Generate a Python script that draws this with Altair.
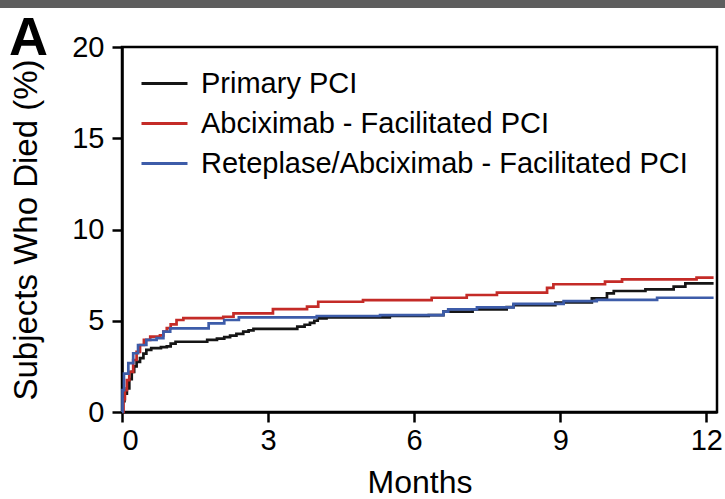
import altair as alt
import pandas as pd

series_names = [
    "Primary PCI",
    "Abciximab - Facilitated PCI",
    "Reteplase/Abciximab - Facilitated PCI",
]
series_colors = ["#151515", "#c42b27", "#3d5ca9"]

primary_months = [0, 0.02, 0.05, 0.1, 0.15, 0.2, 0.25, 0.3, 0.37, 0.44, 0.5, 0.6, 0.8,
                  0.92, 1.0, 1.1, 1.75, 1.95, 2.1, 2.22, 2.35, 2.49, 2.6, 2.7, 3.6,
                  3.75, 3.86, 3.95, 4.02, 4.2, 5.5, 6.3, 6.6, 7.2, 7.9, 8.04, 8.9,
                  9.65, 9.96, 10.1, 10.75, 11.33, 11.57, 12.15]
primary_pct = [0, 0.6, 1.0, 1.3, 1.8, 2.2, 2.5, 2.75, 2.95, 3.2, 3.4, 3.5, 3.55,
               3.6, 3.75, 3.85, 3.95, 4.02, 4.1, 4.18, 4.28, 4.4, 4.47, 4.55, 4.68,
               4.78, 4.88, 5.0, 5.13, 5.19, 5.26, 5.31, 5.5, 5.62, 5.75, 5.86, 6.0,
               6.23, 6.5, 6.63, 6.72, 6.87, 7.05, 7.05]

abcix_months = [0, 0.03, 0.06, 0.1, 0.15, 0.23, 0.3, 0.37, 0.45, 0.58, 0.78, 0.85,
                0.92, 1.0, 1.12, 1.26, 2.08, 2.29, 3.1, 3.8, 4.03, 4.95, 6.36, 7.08,
                7.7, 8.73, 8.86, 9.92, 10.27, 11.8, 12.15]
abcix_pct = [0, 0.7, 1.2, 1.75, 2.2, 2.85, 3.3, 3.67, 3.95, 4.13, 4.2, 4.4,
             4.6, 4.8, 5.04, 5.14, 5.22, 5.4, 5.64, 5.77, 6.04, 6.13, 6.26, 6.41,
             6.54, 6.8, 7.0, 7.14, 7.27, 7.36, 7.36]

retep_months = [0, 0.01, 0.04, 0.13, 0.23, 0.33, 0.5, 0.71, 0.85, 0.99, 1.78, 2.1,
                2.4, 4.0, 5.3, 6.6, 6.7, 7.29, 8.04, 9.07, 9.75, 10.99, 12.15]
retep_pct = [0, 1.2, 2.1, 2.68, 3.22, 3.67, 3.95, 4.05, 4.4, 4.58, 4.86, 5.04,
             5.19, 5.26, 5.31, 5.5, 5.62, 5.73, 5.92, 6.08, 6.14, 6.26, 6.26]

x_ticks = [0, 3, 6, 9, 12]
y_ticks = [0, 5, 10, 15, 20]
panel_label = "A"

rows = []
for name, ms, ps in zip(series_names,
                        [primary_months, abcix_months, retep_months],
                        [primary_pct, abcix_pct, retep_pct]):
    for m, p in zip(ms, ps):
        rows.append({"series": name, "month": m, "pct": p})
df = pd.DataFrame(rows)

FONT = "Liberation Sans"

lines = alt.Chart(df).mark_line(interpolate="step-after", strokeWidth=2.7).encode(
    x=alt.X("month:Q",
            scale=alt.Scale(domain=[0, 12.22], nice=False, zero=True),
            axis=alt.Axis(values=x_ticks, title="Months", labelPadding=4,
                          titlePadding=12, format="d", titleFontSize=32)),
    y=alt.Y("pct:Q",
            scale=alt.Scale(domain=[0, 20], nice=False),
            axis=alt.Axis(values=y_ticks, title="Subjects Who Died (%)",
                          labelPadding=8, titlePadding=28, format="d",
                          titleFontSize=33)),
    color=alt.Color("series:N",
                    scale=alt.Scale(domain=series_names, range=series_colors),
                    legend=alt.Legend(title=None, orient="none", legendX=18, legendY=12,
                                      symbolType="stroke", symbolSize=2116,
                                      symbolStrokeWidth=3, labelFontSize=29,
                                      labelFont=FONT, labelColor="black",
                                      labelOffset=12, rowPadding=-6, labelLimit=700)),
)

top_bar = alt.Chart(pd.DataFrame({"k": [0]})).mark_rect(color="#5e5e5e").encode(
    x=alt.value(-122), x2=alt.value(603), y=alt.value(-47), y2=alt.value(-39)
)

label_a = alt.Chart(pd.DataFrame({"t": [panel_label]})).mark_text(
    fontSize=54, fontWeight="bold", font=FONT, align="left", baseline="alphabetic",
    color="black"
).encode(text="t:N", x=alt.value(-113), y=alt.value(8))

chart = alt.layer(top_bar, label_a, lines).properties(
    width=595,
    height=365,
    padding={"left": 122, "top": 47, "right": 8, "bottom": 87},
    autosize=alt.AutoSizeParams(type="none"),
).configure_view(
    stroke="black", strokeWidth=2.5
).configure_axis(
    grid=False, labelFont=FONT, titleFont=FONT, labelFontSize=29, titleFontSize=30,
    titleFontWeight="normal", labelColor="black", titleColor="black",
    tickSize=10, tickWidth=2.5, tickColor="black", domainColor="black",
    domainWidth=2.5
)

chart.save("out.html", embed_options={"renderer": "svg", "actions": False})
